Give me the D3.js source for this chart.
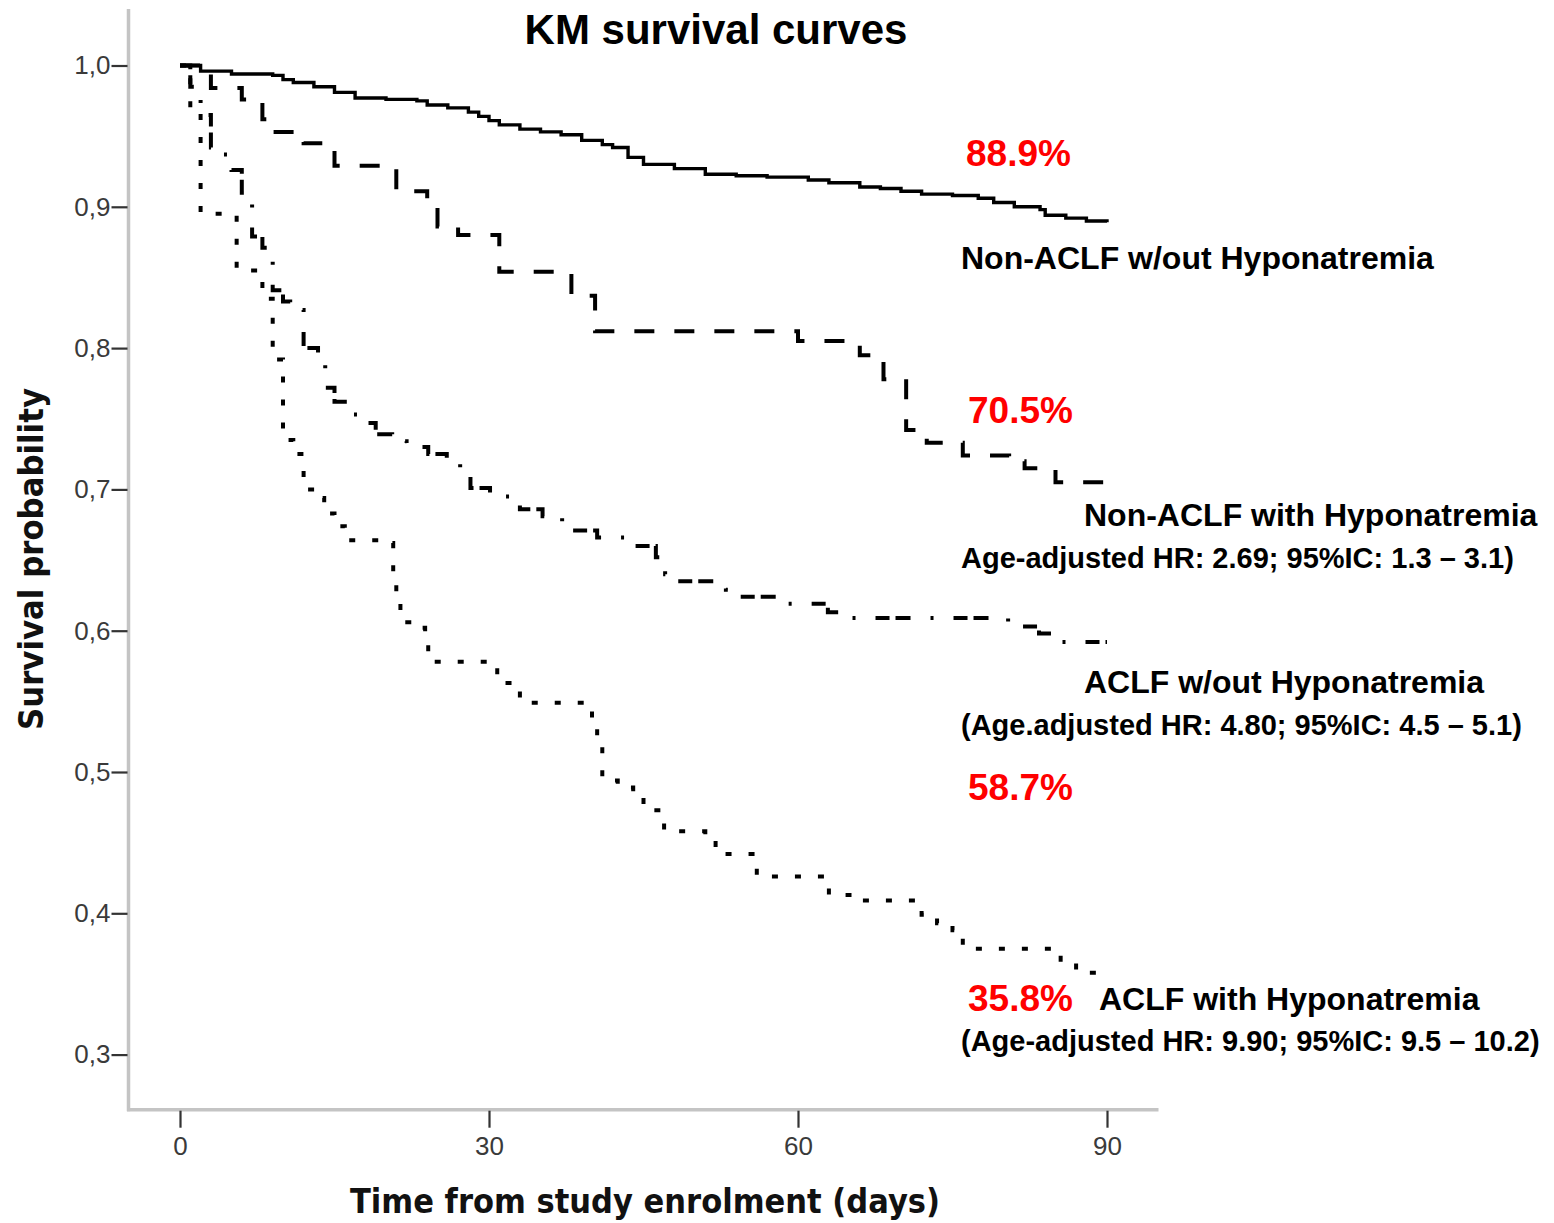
<!DOCTYPE html>
<html>
<head>
<meta charset="utf-8">
<script src="https://cdn.jsdelivr.net/npm/d3@7"></script>
<style>
  html, body { margin: 0; padding: 0; background: #fff; }
  svg { display: block; }
</style>
</head>
<body>
<svg id="chart" width="1554" height="1223"></svg>
<script>
// ---------- DATA ----------
const title = "KM survival curves";
const xTickValues = [0, 30, 60, 90];
const yTickValues = [0.3, 0.4, 0.5, 0.6, 0.7, 0.8, 0.9, 1.0];

// Non-ACLF w/out Hyponatremia (solid) : [day, survival]
const nonAclfNoHypo = [
  [0,1.000],[2,0.996],[5,0.994],[9,0.993],[10,0.990],[11,0.988],[13,0.985],[15,0.981],
  [17,0.977],[20,0.976],[23,0.975],[24,0.972],[26,0.970],[28,0.967],[29,0.964],[30,0.961],
  [31,0.958],[33,0.955],[35,0.953],[37,0.951],[39,0.947],[41,0.944],[42,0.942],[43.5,0.935],
  [45,0.930],[48,0.927],[51,0.923],[54,0.922],[57,0.921],[61,0.919],[63,0.917],[66,0.914],
  [68,0.913],[70,0.911],[72,0.909],[75,0.908],[77.5,0.906],[79,0.903],[81,0.900],[83.5,0.898],
  [84,0.894],[86,0.892],[88,0.890],[90,0.889]
];
// Non-ACLF with Hyponatremia (dashed)
const nonAclfHypo = [
  [0,1.000],[3,0.984],[6,0.976],[8,0.962],[9,0.953],[12,0.945],[15,0.929],[21,0.911],
  [24,0.904],[25,0.886],[27,0.880],[31,0.854],[38,0.837],[40.3,0.812],[60,0.805],[66,0.795],
  [68.3,0.778],[70.5,0.742],[72.5,0.733],[76,0.724],[80.5,0.720],[82,0.715],[85,0.705],[90,0.705]
];
// ACLF w/out Hyponatremia (dash-dot)
const aclfNoHypo = [
  [0,1.000],[1,0.985],[2,0.965],[3,0.942],[4,0.937],[5,0.926],[6,0.910],[7,0.879],
  [8,0.871],[9,0.841],[10,0.833],[10.7,0.827],[12,0.800],[13.4,0.790],[14.1,0.772],[15,0.762],
  [16,0.753],[18,0.747],[19,0.739],[20.6,0.734],[22,0.730],[24.1,0.725],[25.9,0.720],[27.2,0.710],
  [28.2,0.701],[30.1,0.695],[33,0.686],[35.2,0.681],[37.1,0.671],[40.5,0.666],[43.4,0.662],[44,0.660],
  [46.2,0.652],[47.1,0.640],[47.9,0.635],[53,0.629],[54,0.624],[58,0.619],[62.9,0.613],[64.1,0.609],
  [80.4,0.603],[83.4,0.598],[85.1,0.592],[90,0.592]
];
// ACLF with Hyponatremia (dotted)
const aclfHypo = [
  [0,1.000],[1,0.970],[2,0.895],[5.5,0.855],[8,0.835],[9,0.792],[10,0.735],[11,0.725],
  [12,0.700],[13.3,0.694],[14,0.683],[15,0.674],[16,0.664],[20,0.662],[20.7,0.640],[21,0.620],
  [21.4,0.606],[23,0.602],[23.8,0.592],[24.1,0.578],[30,0.574],[30.8,0.563],[33,0.549],[39,0.544],
  [40,0.533],[40.5,0.520],[41,0.494],[42.5,0.489],[44,0.484],[45,0.473],[47,0.458],[51,0.454],
  [52,0.442],[56,0.426],[63,0.413],[65,0.409],[72,0.399],[73.5,0.393],[75,0.388],[76,0.375],
  [85.5,0.365],[87,0.358],[89,0.358]
];

const seriesNames = ["Non-ACLF w/out Hyponatremia","Non-ACLF with Hyponatremia","ACLF w/out Hyponatremia","ACLF with Hyponatremia"];
const seriesPercent = ["88.9%","70.5%","58.7%","35.8%"];
const seriesHR = ["", "Age-adjusted HR: 2.69; 95%IC: 1.3 \u2013 3.1)", "(Age.adjusted HR: 4.80; 95%IC: 4.5 \u2013 5.1)", "(Age-adjusted HR: 9.90; 95%IC: 9.5 \u2013 10.2)"];

// ---------- CHART ----------
const svg = d3.select("#chart");
const x = d3.scaleLinear().domain([0, 90]).range([180, 1107]);
const y = d3.scaleLinear().domain([0.3, 1.0]).range([1054.6, 65.5]);
const xAxisY = y(0.261);

// axis lines (light grey)
svg.append("line").attr("x1", x(-5)).attr("x2", x(-5)).attr("y1", y(1.04)).attr("y2", xAxisY + 1.5)
  .attr("stroke", "#c4c4c4").attr("stroke-width", 3.5);
svg.append("line").attr("x1", x(-5) - 1.5).attr("x2", x(95)).attr("y1", xAxisY).attr("y2", xAxisY)
  .attr("stroke", "#c4c4c4").attr("stroke-width", 3.5);

const fmt = d => d.toFixed(1).replace(".", ",");
const yAxis = svg.append("g").attr("transform", `translate(${x(-5) - 1},0)`)
  .call(d3.axisLeft(y).tickValues(yTickValues).tickFormat(fmt).tickSize(16).tickPadding(1));
const xAxis = svg.append("g").attr("transform", `translate(0,${xAxisY + 1})`)
  .call(d3.axisBottom(x).tickValues(xTickValues).tickFormat(d3.format("d")).tickSize(17).tickPadding(9));
[yAxis, xAxis].forEach(g => {
  g.select(".domain").remove();
  g.selectAll(".tick line").attr("stroke", "#333").attr("stroke-width", 2.2);
  g.selectAll(".tick text").attr("fill", "#3a3a3a").style("font-family", "'Liberation Sans', Arial, sans-serif").style("font-size", "26px");
});

// curves
const line = d3.line().x(d => x(d[0])).y(d => y(d[1])).curve(d3.curveStepAfter);
const curves = [
  { data: nonAclfNoHypo, dash: null, w: 3.4 },
  { data: nonAclfHypo, dash: "20,20", w: 4 },
  { data: aclfNoHypo, dash: "14,6,15,20,3,20", w: 4 },
  { data: aclfHypo, dash: "6,17", w: 4 }
];
curves.forEach(c => {
  svg.append("path").attr("d", line(c.data)).attr("fill", "none")
    .attr("stroke", "#000").attr("stroke-width", c.w)
    .attr("stroke-dasharray", c.dash).attr("stroke-linejoin", "miter");
});

// title
svg.append("text").attr("x", 716).attr("y", 44).attr("text-anchor", "middle")
  .style("font-family", "'Liberation Sans', Arial, sans-serif").style("font-weight", "bold").style("font-size", "42px")
  .text(title);

// axis titles
svg.append("text").attr("x", 645).attr("y", 1213).attr("text-anchor", "middle")
  .attr("textLength", 590).attr("lengthAdjust", "spacingAndGlyphs")
  .style("font-family", "'DejaVu Sans', sans-serif").style("font-weight", "bold").style("font-size", "34px")
  .attr("fill", "#111").text("Time from study enrolment (days)");
svg.append("text").attr("transform", "translate(43,559) rotate(-90)").attr("text-anchor", "middle")
  .attr("textLength", 342).attr("lengthAdjust", "spacingAndGlyphs")
  .style("font-family", "'DejaVu Sans', sans-serif").style("font-weight", "bold").style("font-size", "34px")
  .attr("fill", "#111").text("Survival probability");

// annotations
const ann = svg.append("g").style("font-family", "'Liberation Sans', Arial, sans-serif").style("font-weight", "bold");
const redPos = [[966, 166], [968, 423], [968, 800], [968, 1011]];
seriesPercent.forEach((p, i) => {
  ann.append("text").attr("x", redPos[i][0]).attr("y", redPos[i][1]).attr("fill", "#ff0000")
    .style("font-size", "37px").text(p);
});
const namePos = [[961, 269], [1084, 526], [1084, 693], [1099, 1010]];
seriesNames.forEach((n, i) => {
  ann.append("text").attr("x", namePos[i][0]).attr("y", namePos[i][1]).attr("fill", "#000")
    .style("font-size", "32px").text(n);
});
const hrPos = [null, [961, 568], [961, 735], [961, 1051]];
seriesHR.forEach((h, i) => {
  if (!h) return;
  ann.append("text").attr("x", hrPos[i][0]).attr("y", hrPos[i][1]).attr("fill", "#000")
    .style("font-size", "29px").text(h);
});
</script>
</body>
</html>
